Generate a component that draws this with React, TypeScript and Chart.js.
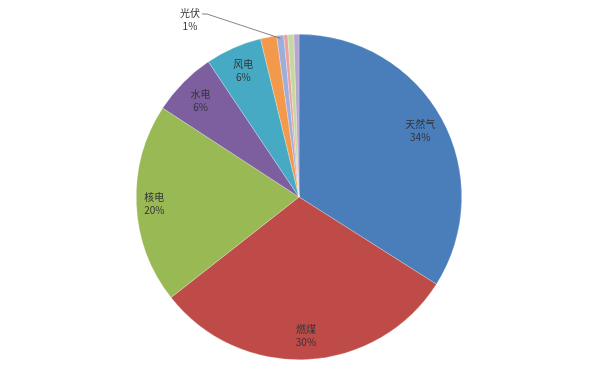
import React, { useEffect, useRef } from "react";
import { Chart, registerables } from "chart.js";

Chart.register(...registerables);

const categories = ["天然气", "燃煤", "核电", "水电", "风电", "其他1", "光伏", "其他2", "其他3", "其他4"];
const values = [34.0, 30.4, 19.8, 6.4, 5.6, 1.6, 0.7, 0.4, 0.6, 0.5];
const colors = ["#4a7ebb", "#be4b48", "#98b954", "#7d5fa0", "#46aac5", "#f3994c", "#9daedb", "#e6a3a2", "#c5d8a0", "#b4a6cf"];
const insideLabels = [true, true, true, true, true, false, false, false, false, false];
const outsideLabel = "光伏";

const labelPlugin = {
  id: "sliceLabels",
  afterDatasetsDraw(chart: any) {
    const ctx = chart.ctx;
    const meta = chart.getDatasetMeta(0);
    const total = values.reduce((a, b) => a + b, 0);
    ctx.save();
    ctx.font = '10px "Noto Sans CJK SC", "DejaVu Sans", sans-serif';
    ctx.fillStyle = "#333";
    ctx.textAlign = "center";
    ctx.textBaseline = "middle";
    meta.data.forEach((arc: any, i: number) => {
      const { x, y, startAngle, endAngle, outerRadius } = arc.getProps(["x", "y", "startAngle", "endAngle", "outerRadius"], true);
      const mid = (startAngle + endAngle) / 2;
      const pct = Math.round((values[i] / total) * 100) + "%";
      if (insideLabels[i]) {
        const r = outerRadius * (i === 2 ? 0.89 : 0.85);
        const lx = x + Math.cos(mid) * r;
        const ly = y + Math.sin(mid) * r;
        ctx.fillText(categories[i], lx, ly - 6);
        ctx.fillText(pct, lx, ly + 7);
      } else if (categories[i] === outsideLabel) {
        const ex = x + Math.cos(mid) * (outerRadius - 3);
        const ey = y + Math.sin(mid) * (outerRadius - 3);
        const lx = 190;
        const ly = 14;
        ctx.strokeStyle = "#666";
        ctx.lineWidth = 0.8;
        ctx.beginPath();
        ctx.moveTo(lx + 12, ly);
        ctx.lineTo(lx + 17, ly);
        ctx.lineTo(ex, ey);
        ctx.stroke();
        ctx.fillText(categories[i], lx, ly - 1);
        ctx.fillText(pct, lx, ly + 12);
      }
    });
    ctx.restore();
  },
};

export default function App() {
  const ref = useRef<HTMLCanvasElement>(null);
  useEffect(() => {
    document.body.style.margin = "0";
    const chart = new Chart(ref.current!, {
      type: "pie",
      data: {
        labels: categories,
        datasets: [
          {
            data: values,
            backgroundColor: colors,
            borderColor: "rgba(255,255,255,0.5)",
            borderWidth: 0.5,
          },
        ],
      },
      options: {
        animation: false,
        responsive: false,
        layout: { padding: { top: 34, bottom: 29, left: 0, right: 2 } },
        plugins: { legend: { display: false }, tooltip: { enabled: false } },
      },
      plugins: [labelPlugin],
    });
    return () => chart.destroy();
  }, []);
  return (
    <div style={{ position: "absolute", left: 0, top: 0, width: 600, height: 389, background: "#fff" }}>
      <canvas ref={ref} width={600} height={389} style={{ width: 600, height: 389 }} />
    </div>
  );
}
